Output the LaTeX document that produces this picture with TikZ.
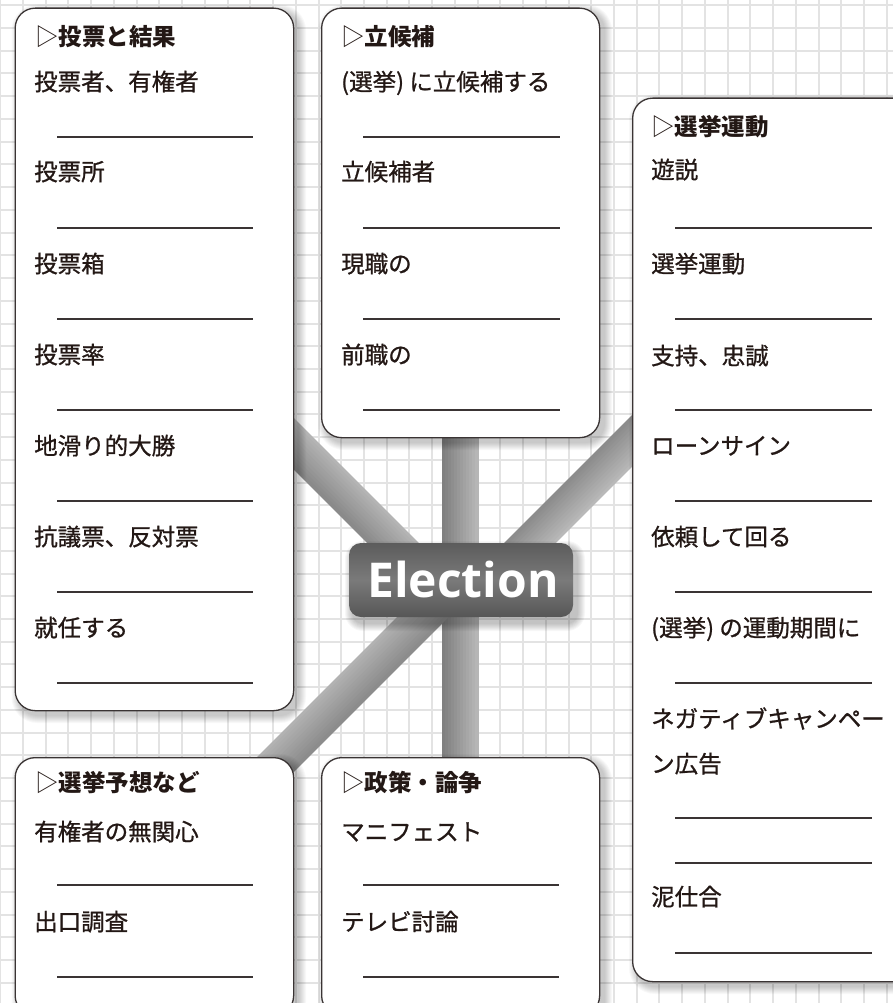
\documentclass[tikz,border=0pt]{standalone}
\usepackage{fontspec}
\usetikzlibrary{calc}
\newfontfamily\cjk{Noto Sans CJK JP}[RawFeature={embolden=0.9}]
\newfontfamily\cjkb{Noto Sans CJK JP}
\newfontfamily\elfont{Open Sans}
\definecolor{txt}{HTML}{231815}
\definecolor{bord}{HTML}{3A3434}
\definecolor{gridc}{HTML}{E3E3E3}
\definecolor{elTop}{HTML}{5C5C5C}
\definecolor{elMid}{HTML}{7A7A7A}
\definecolor{elBot}{HTML}{565656}
\tikzset{
  panelbox/.style={draw=bord, line width=1.3pt, fill=white, rounded corners=20pt, inner sep=0pt},
  item/.style={anchor=base west, inner sep=0pt, text=txt, font=\cjk\fontsize{23.5}{28}\selectfont},
  ttl/.style={anchor=base west, inner sep=0pt, text=txt, font=\cjkb\fontsize{23.5}{28}\selectfont\bfseries},
  ansline/.style={draw=bord, line width=1.3pt},
  elbox/.style={rounded corners=12pt, minimum width=224pt, minimum height=74pt, inner sep=0pt,
     top color=elTop, bottom color=elBot, middle color=elMid},
  eltext/.style={anchor=base, inner sep=0pt, text=white, font=\elfont\bfseries\fontsize{48}{48}\selectfont},
}
\newcommand\bandstrips[5]{%
  \foreach \i in {0,...,11}{%
    \pgfmathsetmacro\off{-#3/2+(\i+0.5)*#3/12}%
    \pgfmathtruncatemacro\g{#4+(#5-#4)*\i/11}%
    \definecolor{bandc}{RGB}{\g,\g,\g}%
    \draw[bandc, line width=3.6pt] ($(#1)!\off pt!90:(#2)$) -- ($(#2)!\off pt!-90:(#1)$);
  }}
\newcommand\panel[5]{%
  \foreach \k in {1,...,8}{%
    \fill[black, opacity=0.028, rounded corners={18+\k}] ({#2+5-\k},{#3+5-\k}) rectangle ({#4+5+\k},{#5+5+\k});
  }%
  \node[panelbox, anchor=north west, minimum width={#4-#2}, minimum height={#5-#3}] (#1) at (#2,#3) {};
}
\newcommand\aline[3]{\draw[ansline] (#1,#3) -- (#2,#3);}
\begin{document}
\begin{tikzpicture}[x=1pt,y=-1pt]
\useasboundingbox (0,0) rectangle (893,1003);
\clip (0,0) rectangle (893,1003);
\fill[white] (0,0) rectangle (893,1003);
% grid
\foreach \k in {0,...,39}{\draw[gridc, line width=2pt] ({0.3+22.73*\k},0) -- ({0.3+22.73*\k},1003);}
\foreach \k in {0,...,44}{\draw[gridc, line width=2pt] (0,{5.3+22.73*\k}) -- (893,{5.3+22.73*\k});}
% band end points
\coordinate (vt) at (460.5,420);
\coordinate (vb) at (460.5,780);
\coordinate (ulIn) at (440,590);
\coordinate (ulOut) at (200,350);
\coordinate (urIn) at (483,590);
\coordinate (urOut) at (720,353);
\coordinate (llIn) at (461,579);
\coordinate (llOut) at (200,840);
% bands
\bandstrips{vt}{vb}{36}{128}{182}
\bandstrips{ulIn}{ulOut}{36}{180}{138}
\bandstrips{urIn}{urOut}{36}{185}{140}
\bandstrips{llIn}{llOut}{36}{178}{140}
% election node
\foreach \k in {1,...,8}{%
  \fill[black, opacity=0.03, rounded corners={10+\k}] ({349+4-\k},{543+6-\k}) rectangle ({573+4+\k},{617+6+\k});
}
\node[elbox] (elec) at (461,580) {};
\node[eltext] (electxt) at (463,597) {Election};
% panels
\panel{b1}{14.5}{7.5}{293}{710}
\panel{b2}{321}{7.5}{599}{437}
\panel{b3}{632}{97.5}{915}{981}
\panel{b4}{14.5}{757}{293}{1015}
\panel{b5}{321}{757}{599}{1015}
% box 1
\node[ttl] (t1) at (35,45.5) {{\mdseries ▷}投票と結果};
\node[item] (a1) at (34,90.5) {投票者、有権者};
\node[item] (a2) at (34,180.5) {投票所};
\node[item] (a3) at (34,272.5) {投票箱};
\node[item] (a4) at (34,363.5) {投票率};
\node[item] (a5) at (34,454.5) {地滑り的大勝};
\node[item] (a6) at (34,545.5) {抗議票、反対票};
\node[item] (a7) at (34,636.5) {就任する};
\foreach \y in {137,228,319,410,501,592,683}{\aline{57}{253}{\y}}
% box 2
\node[ttl] (t2) at (341,45.5) {{\mdseries ▷}立候補};
\node[item] (c1) at (341,90.5) {(選挙) に立候補する};
\node[item] (c2) at (341,180.5) {立候補者};
\node[item] (c3) at (341,272.5) {現職の};
\node[item] (c4) at (341,363.5) {前職の};
\foreach \y in {137,228,319,410}{\aline{363}{560}{\y}}
% box 3
\node[ttl] (t3) at (651,135.5) {{\mdseries ▷}選挙運動};
\node[item] (d1) at (651,178.5) {遊説};
\node[item] (d2) at (651,272.5) {選挙運動};
\node[item] (d3) at (651,364.5) {支持、忠誠};
\node[item] (d4) at (651,454.5) {ローンサイン};
\node[item] (d5) at (651,545.5) {依頼して回る};
\node[item] (d6) at (651,636.5) {(選挙) の運動期間に};
\node[item] (d7) at (651,727.5) {ネガティブキャンペー};
\node[item] (d8) at (651,772.5) {ン広告};
\node[item] (d9) at (651,905.5) {泥仕合};
\foreach \y in {228,319,410,501,592,683,818,863,953}{\aline{675}{872}{\y}}
% box 4
\node[ttl] (t4) at (35,791.5) {{\mdseries ▷}選挙予想など};
\node[item] (e1) at (34,840.5) {有権者の無関心};
\node[item] (e2) at (34,930.5) {出口調査};
\foreach \y in {885,977}{\aline{57}{253}{\y}}
% box 5
\node[ttl] (t5) at (341,791.5) {{\mdseries ▷}政策・論争};
\node[item] (f1) at (341,840.5) {マニフェスト};
\node[item] (f2) at (341,930.5) {テレビ討論};
\foreach \y in {885,977}{\aline{363}{559}{\y}}
\end{tikzpicture}
\end{document}
